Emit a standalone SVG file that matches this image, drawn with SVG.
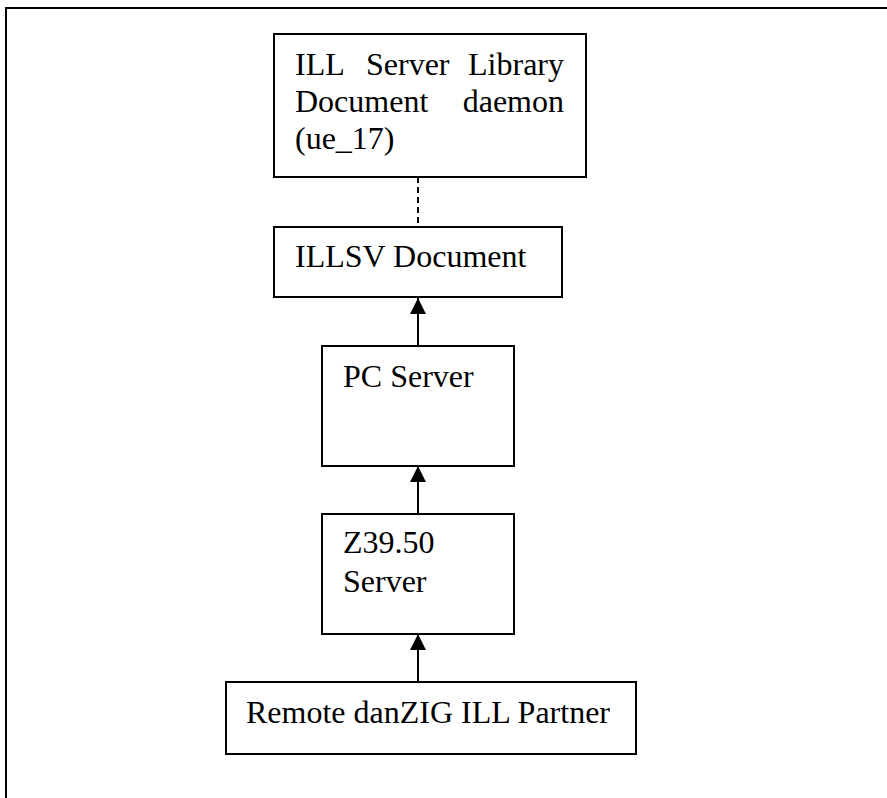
<svg xmlns="http://www.w3.org/2000/svg" width="887" height="798" viewBox="0 0 887 798">
<style>
.box{fill:#fff;stroke:#000;stroke-width:2}
.t{font-family:"Liberation Serif","Times New Roman",serif;font-size:32px;fill:#000}
.c{stroke:#000;stroke-width:2;fill:none}
</style>
<defs>
<marker id="ah" markerWidth="16" markerHeight="16" viewBox="0 0 16 16" refX="16" refY="8" orient="auto" markerUnits="userSpaceOnUse">
<path d="M0,0 L16,8 L0,16 z" fill="#000"/>
</marker>
</defs>
<rect width="887" height="798" fill="#fff"/>
<g id="frame">
<path d="M6,798 V8 H887" class="c"/>
</g>
<g id="connectors">
<line x1="418" y1="177" x2="418" y2="227" class="c" stroke-dasharray="6,4"/>
<line x1="418" y1="346" x2="418" y2="298" class="c" marker-end="url(#ah)"/>
<line x1="418" y1="514" x2="418" y2="466" class="c" marker-end="url(#ah)"/>
<line x1="418" y1="682" x2="418" y2="634" class="c" marker-end="url(#ah)"/>
</g>
<g id="n1">
<rect x="274" y="34" width="312" height="143" class="box"/>
<text class="t" x="295" y="75">ILL</text>
<text class="t" x="366" y="75">Server</text>
<text class="t" x="564" y="75" text-anchor="end">Library</text>
<text class="t" x="295" y="112">Document</text>
<text class="t" x="564" y="112" text-anchor="end">daemon</text>
<text class="t" x="295" y="149">(ue_17)</text>
</g>
<g id="n2">
<rect x="274" y="227" width="288" height="70" class="box"/>
<text class="t" x="295" y="267">ILLSV Document</text>
</g>
<g id="n3">
<rect x="322" y="346" width="192" height="120" class="box"/>
<text class="t" x="343" y="387">PC Server</text>
</g>
<g id="n4">
<rect x="322" y="514" width="192" height="120" class="box"/>
<text class="t" x="343" y="553">Z39.50</text>
<text class="t" x="343" y="592">Server</text>
</g>
<g id="n5">
<rect x="226" y="682" width="410" height="72" class="box"/>
<text class="t" x="246" y="723">Remote danZIG ILL Partner</text>
</g>
</svg>
